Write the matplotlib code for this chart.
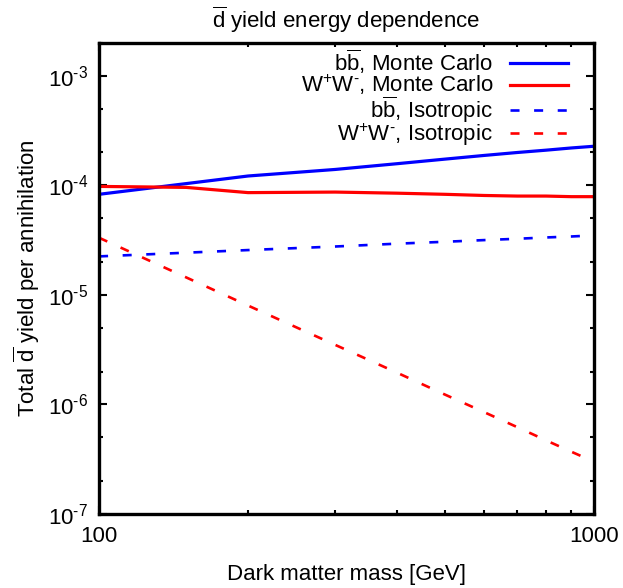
import math
import matplotlib
matplotlib.use('Agg')
import matplotlib.pyplot as plt
from matplotlib.ticker import LogLocator, NullFormatter, FixedLocator, FuncFormatter

plt.rcParams['font.family'] = ['Liberation Sans', 'DejaVu Sans']
plt.rcParams['mathtext.fontset'] = 'custom'
plt.rcParams['mathtext.rm'] = 'Liberation Sans'
plt.rcParams['mathtext.it'] = 'Liberation Sans:italic'
plt.rcParams['mathtext.bf'] = 'Liberation Sans:bold'
plt.rcParams['lines.scale_dashes'] = False

# dark matter mass [GeV]
mass = [100, 200, 300, 400, 500, 600, 700, 800, 900, 1000]
mass_ww = [100, 150, 200, 300, 400, 500, 600, 700, 800, 900, 1000]

# total antideuteron yield per annihilation
bb_mc = [8.3e-5, 1.22e-4, 1.40e-4, 1.58e-4, 1.74e-4, 1.88e-4, 2.00e-4, 2.10e-4, 2.20e-4, 2.28e-4]
ww_mc = [9.8e-5, 9.6e-5, 8.6e-5, 8.7e-5, 8.5e-5, 8.3e-5, 8.1e-5, 8.0e-5, 8.0e-5, 7.9e-5, 7.9e-5]
bb_iso = [2.25e-5, 2.57e-5, 2.77e-5, 2.94e-5, 3.06e-5, 3.17e-5, 3.26e-5, 3.35e-5, 3.42e-5, 3.50e-5]
ww_iso = [3.33e-5, 8.0e-6, 3.5e-6, 1.95e-6, 1.23e-6, 8.5e-7, 6.2e-7, 4.7e-7, 3.7e-7, 3.0e-7]

labels = [r'b$\mathregular{\overline{b}}$, Monte Carlo',
          r'W$^{\text{+}}$W$^{\text{-}}$, Monte Carlo',
          r'b$\mathregular{\overline{b}}$, Isotropic',
          r'W$^{\text{+}}$W$^{\text{-}}$, Isotropic']

fs = 16


def ylab(v, pos):
    return r'10$^{\text{-%d}}$' % round(-math.log10(v))


fig = plt.figure(figsize=(6.23, 5.88), dpi=100)
ax = fig.add_axes([0.159, 0.1259, 0.7945, 0.801])

ax.plot(mass, bb_mc, color='#0000ff', lw=2.3, label=labels[0])
ax.plot(mass_ww, ww_mc, color='#ff0000', lw=2.3, label=labels[1])
ax.plot(mass, bb_iso, color='#0000ff', lw=1.9, dashes=(6.5, 10.5), label=labels[2])
ax.plot(mass, ww_iso, color='#ff0000', lw=1.9, dashes=(6.5, 10.5), label=labels[3])

ax.set_xscale('log')
ax.set_yscale('log')
ax.set_xlim(100, 1000)
ax.set_ylim(1e-7, 2e-3)

ax.xaxis.set_major_locator(FixedLocator([100, 1000]))
ax.xaxis.set_major_formatter(FuncFormatter(lambda v, p: '%d' % round(v)))
ax.xaxis.set_minor_locator(LogLocator(base=10, subs=range(2, 10)))
ax.xaxis.set_minor_formatter(NullFormatter())
ax.yaxis.set_major_locator(LogLocator(base=10, numticks=10))
ax.yaxis.set_major_formatter(FuncFormatter(ylab))
ax.yaxis.set_minor_locator(LogLocator(base=10, subs=(2.0, 5.0), numticks=10))
ax.yaxis.set_minor_formatter(NullFormatter())

ax.tick_params(which='both', direction='in', top=True, right=True, labelsize=fs)
ax.tick_params(which='major', length=6, width=1.5)
ax.tick_params(axis='x', which='major', pad=9)
ax.tick_params(axis='y', which='major', pad=8)
ax.tick_params(which='minor', length=3, width=1.5)
for s in ax.spines.values():
    s.set_linewidth(2.4)

ax.set_xlabel('Dark matter mass [GeV]', fontsize=fs, labelpad=12)
ax.set_ylabel(r'Total $\mathregular{\overline{d}}$ yield per annihilation', fontsize=fs, labelpad=4)
ax.set_title(r'$\mathregular{\overline{d}}$ yield energy dependence', fontsize=fs, pad=11)

leg = ax.legend(loc='upper right', bbox_to_anchor=(0.9475, 0.99), frameon=False,
                markerfirst=False, fontsize=fs, handlelength=2.6, handletextpad=0.77,
                labelspacing=-0.15, borderpad=0, borderaxespad=0)

fig.savefig('out.png', dpi=100)
